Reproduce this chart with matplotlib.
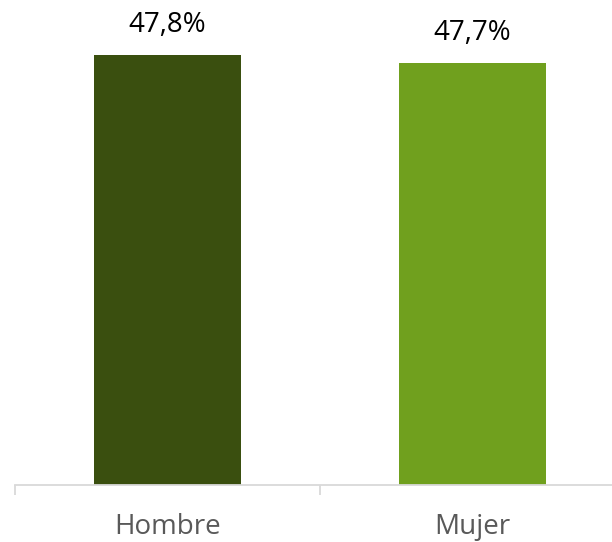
import matplotlib
matplotlib.use("Agg")
import matplotlib.pyplot as plt

categories = ["Hombre", "Mujer"]
values = [47.8, 47.7]
labels = ["47,8%", "47,7%"]
colors = ["#3A4F0F", "#70A01E"]

plt.rcParams['font.family'] = ['Open Sans', 'DejaVu Sans']

fig = plt.figure(figsize=(6.12, 5.42), dpi=100)
ax = fig.add_axes([15/612, 57/542, 610/612, 485/542])

x = range(len(categories))
bars = ax.bar(x, values, width=0.485, color=colors, zorder=2)
ax.set_xlim(-0.5, 1.5)
ax.set_ylim(42.44, 48.49)

for b, lab in zip(bars, labels):
    ax.annotate(lab, (b.get_x() + b.get_width()/2, b.get_height()),
                xytext=(0, 22), textcoords='offset points',
                ha='center', va='center', fontsize=20, color='black')

for s in ['top', 'right', 'left']:
    ax.spines[s].set_visible(False)
ax.spines['bottom'].set_color('#D9D9D9')
ax.spines['bottom'].set_linewidth(1.3)
ax.set_yticks([])
ax.set_xticks(list(x))
ax.set_xticklabels(categories, fontsize=20, color='#595959')
ax.tick_params(axis='x', which='major', length=0, pad=20)
ax.set_xticks([-0.5, 0.5, 1.5], minor=True)
ax.tick_params(axis='x', which='minor', length=7.5, width=1.3, color='#D9D9D9')

fig.savefig("out.png", dpi=100)
